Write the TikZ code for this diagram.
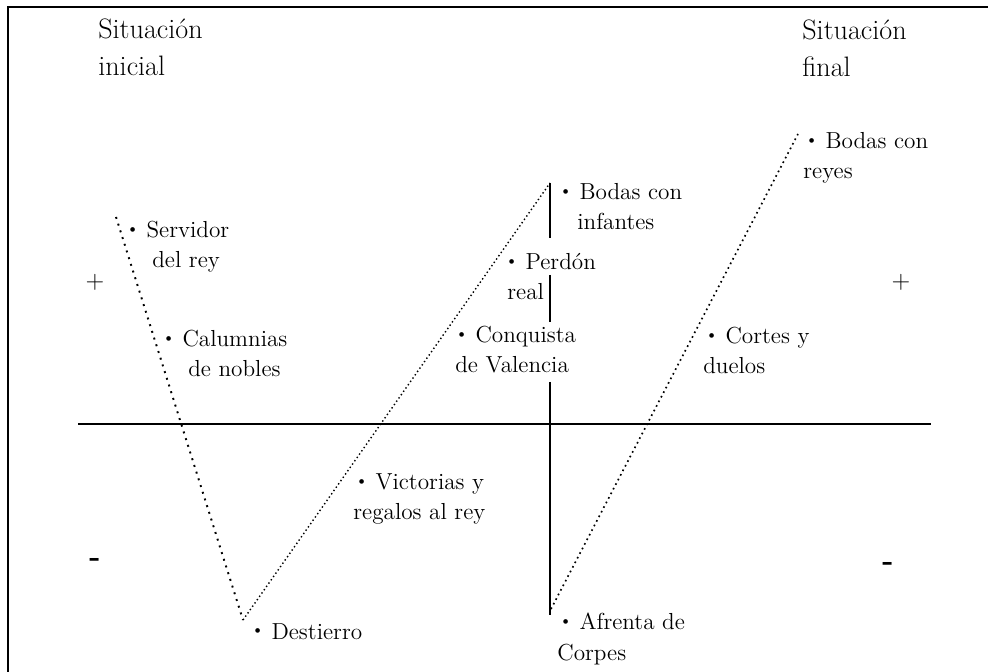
\documentclass[tikz,border=0pt]{standalone}
\usepackage{tikz}
\newcommand{\bul}{\raisebox{2.3pt}{\fontsize{9}{9}\selectfont\textbullet}\ }

\begin{document}
\begin{tikzpicture}[x=0.02cm,y=-0.02cm,
	label node/.style={anchor=base west,inner sep=0pt,align=left,font=\fontsize{13.2}{17.6}\selectfont},
	title node/.style={anchor=base west,inner sep=0pt,align=left,font=\fontsize{16}{21.6}\selectfont},
	sign node/.style={inner sep=0pt,font=\fontsize{14}{14}\selectfont},
	axis/.style={line width=1.1pt},
	coarse dots/.style={line width=1.1pt,dash pattern=on 1.1pt off 2.9pt},
	fine dots/.style={line width=0.8pt,dash pattern=on 0.8pt off 1.5pt},
	mid dots/.style={line width=0.95pt,dash pattern=on 0.95pt off 2pt}]
		
		\useasboundingbox (0,0) rectangle (988,672);
		\draw[line width=1.4pt] (8,672) -- (8,7) -- (988,7);
		
		% base anchor sits on the last line
		\node[title node] (inicial) at (98,76) {Situación\\inicial};
		\node[title node] (final) at (802,77) {Situación\\final};
		
		\node[sign node] (plus-l) at (95,282) {+};
		\node[sign node] (plus-r) at (901,282) {+};
		\node[sign node, font=\bfseries\fontsize{17}{17}\selectfont] (minus-l) at (95,562) {-};
		\node[sign node, font=\bfseries\fontsize{17}{17}\selectfont] (minus-r) at (888,566) {-};
		
		\coordinate (p-servidor) at (116,217);
		\coordinate (p-destierro) at (243,620);
		\coordinate (p-infantes) at (550,183);
		\coordinate (p-corpes) at (550,615);
		\coordinate (p-afrenta) at (551,609);
		\coordinate (p-reyes) at (798,134);
		\coordinate (axis-w) at (78,424);
		\coordinate (axis-e) at (931,424);
		
		\draw[axis] (axis-w) -- (axis-e);
		\draw[axis] (p-infantes) -- ++(0,55) ++(0,37) -- ++(0,47) ++(0,60) -- (p-corpes);
		\draw[coarse dots] (p-servidor) -- (p-destierro);
		\draw[fine dots] (p-destierro) -- (p-infantes);
		\draw[mid dots] (p-afrenta) -- (p-reyes);
		
		\node[label node] (servidor) at (126,268) {\bul Servidor\\\hspace*{0.52cm}del rey};
		\node[label node] (calumnias) at (162,377) {\bul Calumnias\\\hspace*{0.52cm}de nobles};
		\node[label node] (victorias) at (353,520) {\hspace*{0.04cm}\bul Victorias y\\regalos al rey};
		\node[label node] (destierro) at (251,639) {\bul Destierro};
		\node[label node] (conquista) at (455,373) {\bul Conquista\\de Valencia};
		\node[label node] (perdon) at (505,300) {\bul Perdón\\\hspace*{0.04cm}real};
		\node[label node] (infantes) at (559,230) {\bul Bodas con\\\hspace*{0.36cm}infantes};
		\node[label node] (afrenta) at (557,660) {\hspace*{0.04cm}\bul Afrenta de\\Corpes};
		\node[label node] (cortes) at (703,374) {\hspace*{0.04cm}\bul Cortes y\\duelos};
		\node[label node] (reyes) at (803,179) {\hspace*{0.04cm}\bul Bodas con\\reyes};
		
\end{tikzpicture}
\end{document}
